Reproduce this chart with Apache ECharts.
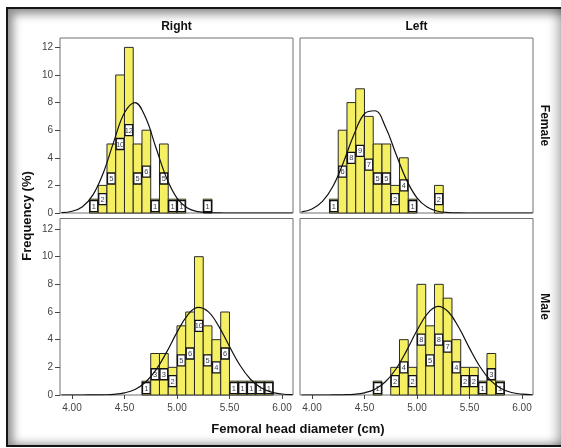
<!DOCTYPE html>
<html><head><meta charset="utf-8">
<script src="https://cdn.jsdelivr.net/npm/echarts@6/dist/echarts.min.js"></script>
<style>
html,body{margin:0;padding:0;background:#fff;overflow:hidden;}
#frame{position:absolute;left:6px;top:7px;width:562px;height:436px;border:2px solid #151515;box-shadow:inset 2px 2px 10px 3px rgba(0,0,0,0.45), inset -22px 0 12px -10px rgba(0,0,0,0.35);background:#fff;}
#chart{position:absolute;left:0;top:0;width:561px;height:448px;}
</style></head><body>
<div id="frame"></div>
<div id="chart"></div>
<script>
// ---- data ----
const columnTitles = ['Right', 'Left'];
const rowTitles = ['Female', 'Male'];
const xTitle = 'Femoral head diameter (cm)';
const yTitle = 'Frequency (%)';
const xTickValues = [4.0, 4.5, 5.0, 5.5, 6.0];
const xTickLabels = ['4.00', '4.50', '5.00', '5.50', '6.00'];
const yTickValues = [0, 2, 4, 6, 8, 10, 12];
const binStart = 4.0;
const binWidth = 1 / 12;
// counts per bin (bin k covers binStart + k*binWidth .. +binWidth)
const rightFemaleCounts = [0,0,1,2,5,10,12,5,6,1,5,1,1,0,0,1,0,0,0,0,0,0,0,0];
const leftFemaleCounts  = [0,0,1,6,8,9,7,5,5,2,4,1,0,0,2,0,0,0,0,0,0,0,0,0];
const rightMaleCounts   = [0,0,0,0,0,0,0,0,1,3,3,2,5,6,10,5,4,6,1,1,1,1,1,0];
const leftMaleCounts    = [0,0,0,0,0,0,0,1,0,2,4,2,8,5,8,7,4,2,2,1,3,1,0,0];
// normal curves
const curveX = [3.9,4.0,4.1,4.2,4.3,4.4,4.5,4.6,4.7,4.8,4.9,5.0,5.1,5.2,5.3,5.4,5.5,5.6,5.7,5.8,5.9,6.0,6.1];
const rightFemaleCurve = [0.028,0.127,0.459,1.31,2.94,5.21,7.26,8.0,6.93,4.73,2.55,1.08,0.362,0.096,0.02,0.003,0,0,0,0,0,0,0];
const leftFemaleCurve  = [0.085,0.294,0.836,1.94,3.68,5.69,7.19,7.41,6.23,4.28,2.40,1.10,0.411,0.125,0.031,0.006,0.001,0,0,0,0,0,0];
const rightMaleCurve   = [0,0,0.001,0.004,0.014,0.05,0.153,0.403,0.919,1.81,3.08,4.53,5.76,6.33,6.01,4.94,3.51,2.15,1.14,0.524,0.208,0.071,0.021];
const leftMaleCurve    = [0,0,0.001,0.004,0.015,0.052,0.159,0.419,0.956,1.88,3.19,4.66,5.88,6.40,6.00,4.86,3.39,2.04,1.06,0.475,0.183,0.061,0.018];

const panels = [
  {counts: rightFemaleCounts, curve: rightFemaleCurve},
  {counts: leftFemaleCounts, curve: leftFemaleCurve},
  {counts: rightMaleCounts, curve: rightMaleCurve},
  {counts: leftMaleCounts, curve: leftMaleCurve}
];

const FONT = '"Liberation Sans", Arial, Helvetica, sans-serif';
const grids = [
  {left: 60, top: 38, width: 233, height: 175},
  {left: 300, top: 38, width: 233, height: 175},
  {left: 60, top: 218.5, width: 233, height: 176.5},
  {left: 300, top: 218.5, width: 233, height: 176.5}
];

function renderBin(params, api) {
  const x0 = api.value(0), x1 = api.value(1), n = api.value(2);
  if (!n) return null;
  const pa = api.coord([x0, 0]);
  const pb = api.coord([x1, n]);
  const w = pb[0] - pa[0], h = pa[1] - pb[1];
  const cy = (pa[1] + pb[1]) / 2;
  const bh = 11;
  return {type: 'group', children: [
    {type: 'rect', shape: {x: pa[0], y: pb[1], width: w, height: h},
     style: {fill: '#f5f063', stroke: '#2a2a2a', lineWidth: 1}},
    {type: 'rect', shape: {x: pa[0] + 0.5, y: cy - bh / 2, width: w - 1, height: bh},
     style: {fill: '#ffffff', stroke: '#111111', lineWidth: 1.3}},
    {type: 'text', style: {text: String(n), x: (pa[0] + pb[0]) / 2, y: cy + 0.5,
     align: 'center', verticalAlign: 'middle', fontSize: 7.5, fill: '#3c4050', fontFamily: FONT}}
  ]};
}

const option = {
  animation: false,
  grid: grids.map(g => Object.assign({show: true, borderColor: '#707070', borderWidth: 1, backgroundColor: '#fff'}, g)),
  xAxis: grids.map((g, i) => {
    const bottom = i >= 2;
    return {
      gridIndex: i, type: 'value', min: 3.886, max: 6.105,
      axisLine: {show: false}, splitLine: {show: false},
      axisTick: {show: bottom, customValues: xTickValues, length: 4, lineStyle: {color: '#444'}},
      axisLabel: {show: bottom, customValues: xTickValues, margin: 8, fontSize: 10, color: '#444', fontFamily: FONT,
        formatter: v => xTickLabels[xTickValues.findIndex(t => Math.abs(t - v) < 1e-9)]}
    };
  }),
  yAxis: grids.map((g, i) => {
    const left = i % 2 === 0;
    return {
      gridIndex: i, type: 'value', min: 0, max: i < 2 ? 12.68 : 12.76,
      axisLine: {show: false}, splitLine: {show: false},
      axisTick: {show: left, customValues: yTickValues, length: 5, lineStyle: {color: '#444'}},
      axisLabel: {show: left, customValues: yTickValues, margin: 7, fontSize: 10, color: '#444', fontFamily: FONT}
    };
  }),
  series: [],
  graphic: [
    {type: 'text', x: 176.5, y: 27, style: {text: columnTitles[0], align: 'center', verticalAlign: 'middle', font: 'bold 12px ' + FONT, fill: '#111'}},
    {type: 'text', x: 416.5, y: 27, style: {text: columnTitles[1], align: 'center', verticalAlign: 'middle', font: 'bold 12px ' + FONT, fill: '#111'}},
    {type: 'text', x: 544, y: 125.5, rotation: -Math.PI / 2, style: {text: rowTitles[0], align: 'center', verticalAlign: 'middle', font: 'bold 12px ' + FONT, fill: '#111'}},
    {type: 'text', x: 544, y: 306.5, rotation: -Math.PI / 2, style: {text: rowTitles[1], align: 'center', verticalAlign: 'middle', font: 'bold 12px ' + FONT, fill: '#111'}},
    {type: 'text', x: 27.5, y: 216, rotation: Math.PI / 2, style: {text: yTitle, align: 'center', verticalAlign: 'middle', font: 'bold 13px ' + FONT, fill: '#111'}},
    {type: 'text', x: 298, y: 429, style: {text: xTitle, align: 'center', verticalAlign: 'middle', font: 'bold 13px ' + FONT, fill: '#111'}}
  ]
};

panels.forEach((p, i) => {
  option.series.push({
    type: 'custom', xAxisIndex: i, yAxisIndex: i, renderItem: renderBin, z: 2,
    data: p.counts.map((n, k) => [binStart + k * binWidth, binStart + (k + 1) * binWidth, n])
  });
  option.series.push({
    type: 'line', xAxisIndex: i, yAxisIndex: i, smooth: 0.4, symbol: 'none', z: 3,
    lineStyle: {color: '#111', width: 1.2},
    data: curveX.map((x, j) => [x, p.curve[j]])
  });
});

const chart = echarts.init(document.getElementById('chart'), null, {renderer: 'canvas'});
chart.setOption(option);
</script>
</body></html>
